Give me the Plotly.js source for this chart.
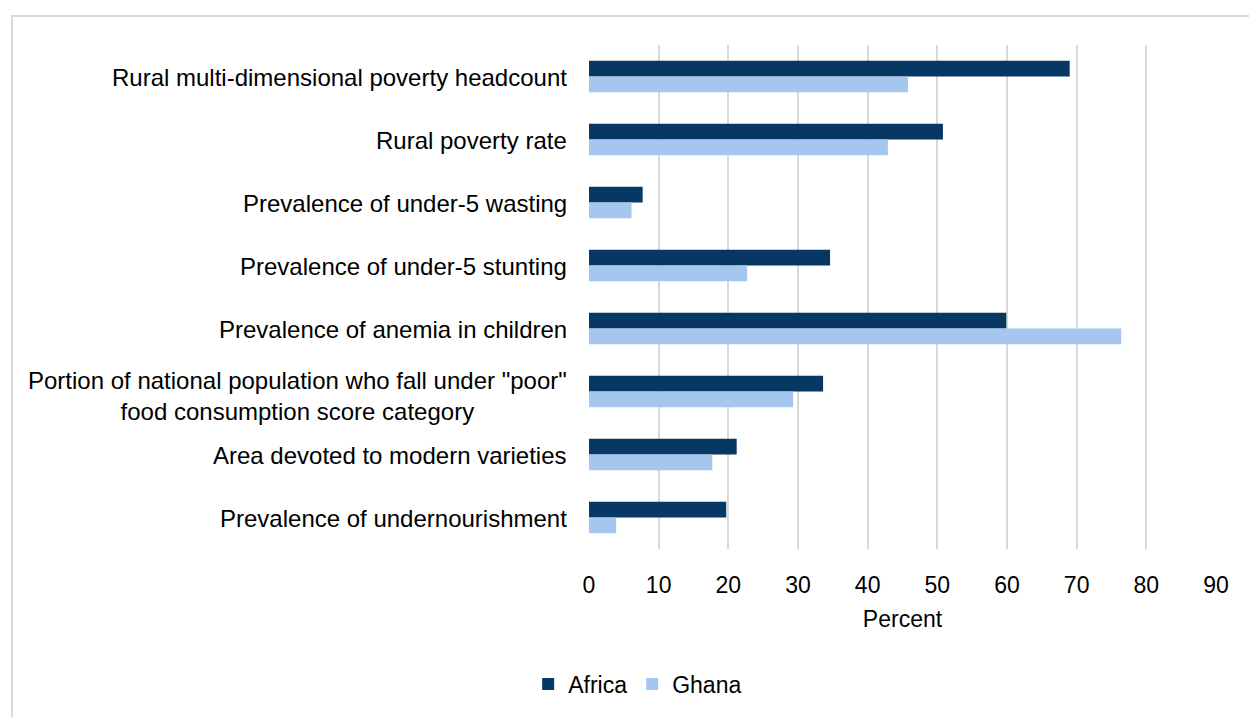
<!DOCTYPE html>
<html>
<head>
<meta charset="utf-8">
<script src="https://cdn.plot.ly/plotly-3.0.1.min.js"></script>
<style>
  html, body { margin: 0; padding: 0; background: #ffffff; overflow: hidden; }
  #wrap { position: relative; width: 1249px; height: 717px; }
  #frame { position: absolute; left: 11px; top: 15px; width: 1400px; height: 900px;
           border-left: 2px solid #d9d9d9; border-top: 2px solid #d9d9d9; z-index: 2; pointer-events: none; }
  #chart { position: absolute; left: 0; top: 0; width: 1249px; height: 717px; }
</style>
</head>
<body>
<div id="wrap">
  <div id="chart"></div>
  <div id="frame"></div>
</div>
<script>
const categories = [
  'Rural multi-dimensional poverty headcount',
  'Rural poverty rate',
  'Prevalence of under-5 wasting',
  'Prevalence of under-5 stunting',
  'Prevalence of anemia in children',
  'Portion of national population who fall under "poor"<br>food consumption score category',
  'Area devoted to modern varieties',
  'Prevalence of undernourishment'
];
const africa = [69, 50.8, 7.7, 34.6, 59.9, 33.6, 21.2, 19.7];
const ghana  = [45.8, 42.9, 6.1, 22.7, 76.4, 29.3, 17.7, 3.9];
const seriesNames = ['Africa', 'Ghana'];
const seriesColors = ['#073763', '#a4c6ef'];
const xTicks = [0, 10, 20, 30, 40, 50, 60, 70, 80, 90];

const FONT = 'Liberation Sans, Arial, sans-serif';

const traces = [africa, ghana].map((vals, i) => ({
  type: 'bar',
  orientation: 'h',
  name: seriesNames[i],
  y: categories,
  x: vals,
  marker: { color: seriesColors[i], line: { width: 0 } },
  hoverinfo: 'x+y+name'
}));

const annotations = categories.map(c => ({
  x: 0, xref: 'paper', xanchor: 'right', xshift: -20,
  y: c, yref: 'y', yanchor: 'middle', yshift: c.indexOf('<br>') >= 0 ? -4 : -1,
  text: c, showarrow: false, align: 'center',
  font: { family: FONT, size: 24, color: '#000000' }
}));

const layout = {
  width: 1249, height: 717,
  margin: { l: 589, r: 33, t: 45, b: 160 },
  paper_bgcolor: '#ffffff', plot_bgcolor: '#ffffff',
  barmode: 'group', bargap: 0.5, bargroupgap: 0,
  font: { family: FONT, size: 23, color: '#000000' },
  xaxis: {
    range: [0, 90], tickvals: xTicks, ticktext: xTicks.map(String),
    showgrid: true, gridcolor: '#d9d9d9', gridwidth: 2,
    zeroline: false, showline: false,
    ticks: 'outside', ticklen: 15, tickcolor: 'rgba(0,0,0,0)',
    tickfont: { family: FONT, size: 23, color: '#000000' },
    title: { text: 'Percent', font: { family: FONT, size: 23, color: '#000000' }, standoff: 14 },
    fixedrange: true
  },
  yaxis: {
    autorange: 'reversed', showticklabels: false, showgrid: false,
    zeroline: false, showline: false, ticks: '', fixedrange: true
  },
  annotations: annotations,
  showlegend: true,
  legend: {
    orientation: 'h', x: -0.097, xanchor: 'left', y: -0.268, yanchor: 'middle',
    font: { family: FONT, size: 23, color: '#000000' },
    traceorder: 'normal', itemclick: false, itemdoubleclick: false
  }
};

Plotly.newPlot('chart', traces, layout, { displayModeBar: false, staticPlot: true });
</script>
</body>
</html>
